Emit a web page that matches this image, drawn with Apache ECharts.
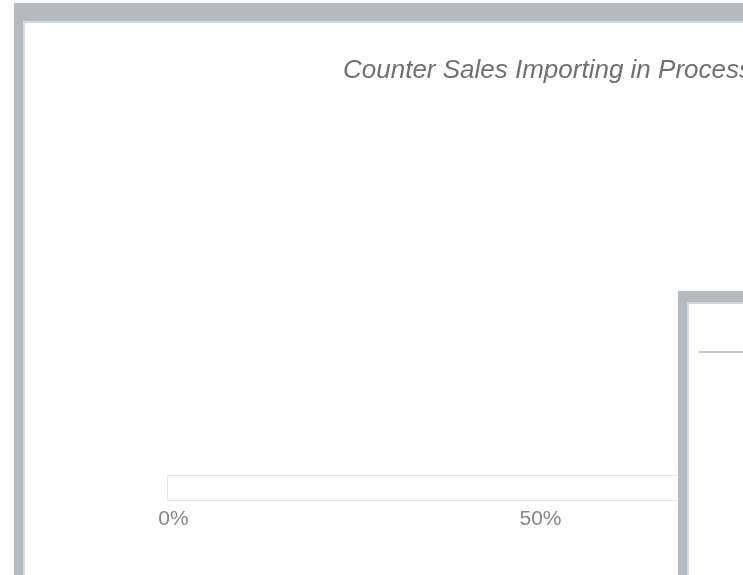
<!DOCTYPE html>
<html>
<head>
<meta charset="utf-8">
<script src="https://cdn.jsdelivr.net/npm/echarts@6/dist/echarts.min.js"></script>
<style>
  html, body { margin: 0; padding: 0; background: #ffffff; overflow: hidden; }
  #chart { width: 743px; height: 575px; }
</style>
</head>
<body>
<div id="chart"></div>
<script>
// ---- data ----
var titleText = 'Counter Sales Importing in Process';
var categories = ['Counter Sales'];
var progressValues = [0];      // percent imported
var trackValues = [100];       // full track (100%)
var axisMin = 0;
var axisMax = 100;
var tickInterval = 50;         // ticks: 0%, 50%, 100%
var tickSuffix = '%';

var frameGray = '#b5babe';
var frameLight = '#d6d9dc';

var chart = echarts.init(document.getElementById('chart'), null, { renderer: 'canvas' });

chart.setOption({
  backgroundColor: '#ffffff',
  animation: false,
  title: {
    text: titleText,
    left: 338,
    top: 53,
    textStyle: {
      fontFamily: 'Liberation Sans, Arial, sans-serif',
      fontStyle: 'italic',
      fontWeight: 'normal',
      fontSize: 26,
      color: '#6e7072'
    }
  },
  grid: {
    left: 167,
    top: 475,
    width: 734,
    height: 26,
    containLabel: false,
    outerBoundsMode: 'none'
  },
  xAxis: {
    type: 'value',
    min: axisMin,
    max: axisMax,
    interval: tickInterval,
    axisLine: { show: false },
    axisTick: { show: false },
    splitLine: { show: false },
    axisLabel: {
      formatter: function (v) { return v + tickSuffix; },
      fontFamily: 'Liberation Sans, Arial, sans-serif',
      fontSize: 21,
      color: '#858789',
      margin: 8,
      padding: [0, 0, 0, 13]
    }
  },
  yAxis: {
    type: 'category',
    data: categories,
    show: false
  },
  series: [
    {
      name: 'track',
      type: 'bar',
      data: trackValues,
      barWidth: 26,
      barGap: '-100%',
      silent: true,
      z: 1,
      itemStyle: { color: '#ffffff', borderColor: '#e4e5e6', borderWidth: 1 }
    },
    {
      name: 'progress',
      type: 'bar',
      data: progressValues,
      barWidth: 26,
      z: 2,
      itemStyle: { color: '#5b9bd5' }
    }
  ],
  graphic: [
    // outer frame (top band and left band)
    { type: 'rect', z: 100, shape: { x: 14, y: 3, width: 729, height: 18 }, style: { fill: frameGray } },
    { type: 'rect', z: 100, shape: { x: 14, y: 3, width: 9, height: 572 }, style: { fill: frameGray } },
    { type: 'rect', z: 100, shape: { x: 23, y: 21, width: 720, height: 2 }, style: { fill: frameLight } },
    { type: 'rect', z: 100, shape: { x: 23, y: 21, width: 2, height: 554 }, style: { fill: frameLight } },
    // overlapping panel at lower right
    { type: 'rect', z: 110, shape: { x: 678, y: 291, width: 65, height: 284 }, style: { fill: '#ffffff' } },
    { type: 'rect', z: 111, shape: { x: 678, y: 291, width: 65, height: 11 }, style: { fill: frameGray } },
    { type: 'rect', z: 111, shape: { x: 678, y: 291, width: 9, height: 284 }, style: { fill: frameGray } },
    { type: 'rect', z: 111, shape: { x: 687, y: 302, width: 56, height: 2 }, style: { fill: frameLight } },
    { type: 'rect', z: 111, shape: { x: 687, y: 302, width: 2, height: 273 }, style: { fill: frameLight } },
    { type: 'line', z: 112, shape: { x1: 699, y1: 352, x2: 743, y2: 352 }, style: { stroke: '#c6c7c8', lineWidth: 2 } }
  ]
});
</script>
</body>
</html>
